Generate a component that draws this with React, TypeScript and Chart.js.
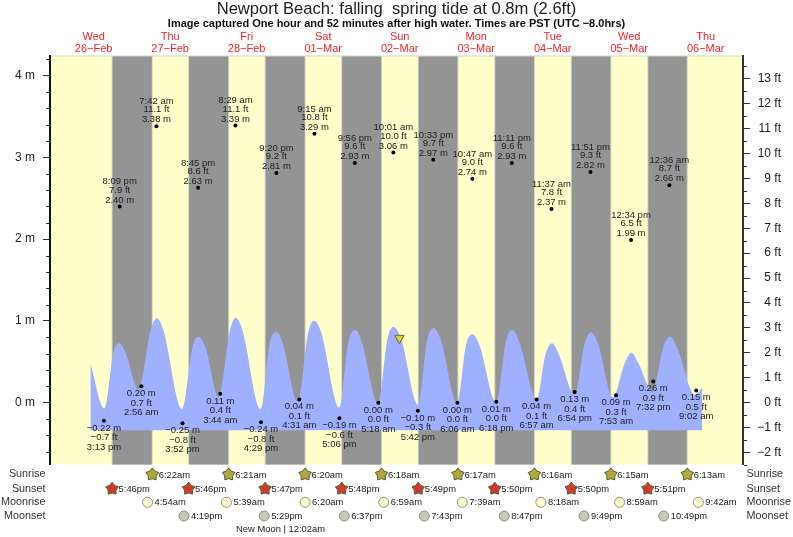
import React, { useEffect, useRef } from "react";
import { Chart, registerables } from "chart.js";

Chart.register(...registerables);

// Hours are counted from 00:00 on Wed 26-Feb.
const dayHours = [12, 36, 60, 84, 108, 132, 156, 180, 204];
const dayLabels = [
  ["Wed", "26\u2212Feb"], ["Thu", "27\u2212Feb"], ["Fri", "28\u2212Feb"], ["Sat", "01\u2212Mar"],
  ["Sun", "02\u2212Mar"], ["Mon", "03\u2212Mar"], ["Tue", "04\u2212Mar"], ["Wed", "05\u2212Mar"], ["Thu", "06\u2212Mar"],
];

const curveHours = [10.96, 15.35, 18.16, 20.05, 22.06, 26.0, 29.9, 31.77, 33.85, 39.72, 42.95, 44.74, 47.15, 51.11, 54.78, 56.56, 58.64, 64.4, 67.2, 69.42, 71.3, 76.0, 79.35, 81.23, 83.3, 89.07, 91.9, 94.2, 96.1, 101.2, 104.2, 106.0, 108.4, 113.76, 116.6, 118.8, 120.9, 126.0, 128.8, 130.8, 133.0, 138.3, 141.3, 143.3, 145.5, 151.0, 153.7, 155.8, 158.0, 162.9, 166.05, 168.1, 170.2, 174.9, 178.6, 180.7, 182.9, 187.3, 190.6, 192.7, 195.1, 200.6, 202.95];
const curveMeters = [0.482, -0.069, 0.604, 0.726, 0.604, 0.164, 0.889, 1.032, 0.889, -0.077, 0.665, 0.808, 0.665, 0.074, 0.889, 1.04, 0.889, -0.077, 0.726, 0.861, 0.726, 0.012, 0.869, 1.003, 0.869, -0.06, 0.746, 0.889, 0.746, -0.008, 0.787, 0.93, 0.787, -0.028, 0.767, 0.91, 0.767, 0, 0.706, 0.836, 0.706, 0, 0.746, 0.889, 0.746, 0.045, 0.583, 0.726, 0.583, 0.094, 0.726, 0.861, 0.726, 0.066, 0.482, 0.612, 0.482, 0.135, 0.665, 0.808, 0.665, 0.094, 0.188];
const curveBase = -0.338;

const tideHours = [15.22, 20.15, 26.93, 31.7, 39.87, 44.75, 51.73, 56.48, 64.48, 69.33, 76.52, 81.25, 89.1, 93.93, 101.3, 106.02, 113.7, 118.55, 126.1, 130.78, 138.3, 143.18, 150.95, 155.62, 162.9, 167.85, 175.88, 180.57, 187.53, 192.6, 201.03];
const tideMeters = [-0.22, 2.4, 0.2, 3.38, -0.25, 2.63, 0.11, 3.39, -0.24, 2.81, 0.04, 3.29, -0.19, 2.93, 0, 3.06, -0.1, 2.97, 0, 2.74, 0.01, 2.93, 0.04, 2.37, 0.13, 2.82, 0.09, 1.99, 0.26, 2.66, 0.15];
const tideMeterText = ["\u22120.22 m", "2.40 m", "0.20 m", "3.38 m", "\u22120.25 m", "2.63 m", "0.11 m", "3.39 m", "\u22120.24 m", "2.81 m", "0.04 m", "3.29 m", "\u22120.19 m", "2.93 m", "0.00 m", "3.06 m", "\u22120.10 m", "2.97 m", "0.00 m", "2.74 m", "0.01 m", "2.93 m", "0.04 m", "2.37 m", "0.13 m", "2.82 m", "0.09 m", "1.99 m", "0.26 m", "2.66 m", "0.15 m"];
const tideFeetText = ["\u22120.7 ft", "7.9 ft", "0.7 ft", "11.1 ft", "\u22120.8 ft", "8.6 ft", "0.4 ft", "11.1 ft", "\u22120.8 ft", "9.2 ft", "0.1 ft", "10.8 ft", "\u22120.6 ft", "9.6 ft", "0.0 ft", "10.0 ft", "\u22120.3 ft", "9.7 ft", "0.0 ft", "9.0 ft", "0.0 ft", "9.6 ft", "0.1 ft", "7.8 ft", "0.4 ft", "9.3 ft", "0.3 ft", "6.5 ft", "0.9 ft", "8.7 ft", "0.5 ft"];
const tideTimeText = ["3:13 pm", "8:09 pm", "2:56 am", "7:42 am", "3:52 pm", "8:45 pm", "3:44 am", "8:29 am", "4:29 pm", "9:20 pm", "4:31 am", "9:15 am", "5:06 pm", "9:56 pm", "5:18 am", "10:01 am", "5:42 pm", "10:33 pm", "6:06 am", "10:47 am", "6:18 pm", "11:11 pm", "6:57 am", "11:37 am", "6:54 pm", "11:51 pm", "7:53 am", "12:34 pm", "7:32 pm", "12:36 am", "9:02 am"];

const nowHour = [107.88];
const nowMeter = [0.79];

const sunriseHours = [30.37, 54.35, 78.33, 102.3, 126.28, 150.27, 174.25, 198.22];
const sunriseText = ["6:22am", "6:21am", "6:20am", "6:18am", "6:17am", "6:16am", "6:15am", "6:13am"];
const sunsetHours = [17.77, 41.77, 65.78, 89.8, 113.82, 137.83, 161.83, 185.85];
const sunsetText = ["5:46pm", "5:46pm", "5:47pm", "5:48pm", "5:49pm", "5:50pm", "5:50pm", "5:51pm"];
const moonriseHours = [28.9, 53.65, 78.33, 102.98, 127.65, 152.3, 176.98, 201.7];
const moonriseText = ["4:54am", "5:39am", "6:20am", "6:59am", "7:39am", "8:18am", "8:59am", "9:42am"];
const moonsetHours = [40.32, 65.48, 90.62, 115.72, 140.78, 165.82, 190.82];
const moonsetText = ["4:19pm", "5:29pm", "6:37pm", "7:43pm", "8:47pm", "9:49pm", "10:49pm"];
const rowNames = ["Sunrise", "Sunset", "Moonrise", "Moonset"];

const meterTicks = [0, 1, 2, 3, 4];
const meterMinor = [-0.6, -0.4, -0.2, 0.2, 0.4, 0.6, 0.8, 1.2, 1.4, 1.6, 1.8, 2.2, 2.4, 2.6, 2.8, 3.2, 3.4, 3.6, 3.8, 4.2];
const feetTicks = [-2, -1, 0, 1, 2, 3, 4, 5, 6, 7, 8, 9, 10, 11, 12, 13];
const feetMinor = [-2.5, -1.5, -0.5, 0.5, 1.5, 2.5, 3.5, 4.5, 5.5, 6.5, 7.5, 8.5, 9.5, 10.5, 11.5, 12.5, 13.5];

const FONT = '"Liberation Sans", Arial, sans-serif';

function star(ctx: CanvasRenderingContext2D, x: number, y: number, fill: string) {
  const outer = 6.6;
  const inner = 4.2;
  ctx.beginPath();
  for (let i = 0; i < 10; i++) {
    const r = i % 2 === 0 ? outer : inner;
    const a = -Math.PI / 2 + (i * Math.PI) / 5;
    const px = x + r * Math.cos(a);
    const py = y + r * Math.sin(a);
    if (i === 0) ctx.moveTo(px, py);
    else ctx.lineTo(px, py);
  }
  ctx.closePath();
  ctx.fillStyle = fill;
  ctx.fill();
  ctx.strokeStyle = "#5a5a3a";
  ctx.lineWidth = 1;
  ctx.stroke();
}

function moon(ctx: CanvasRenderingContext2D, x: number, y: number, fill: string) {
  ctx.beginPath();
  ctx.arc(x, y, 5, 0, Math.PI * 2);
  ctx.fillStyle = fill;
  ctx.fill();
  ctx.strokeStyle = "#8f8f80";
  ctx.lineWidth = 1;
  ctx.stroke();
}

const bandsPlugin = {
  id: "bands",
  beforeDraw(chart: any) {
    const { ctx, chartArea: a, scales } = chart;
    ctx.save();
    ctx.fillStyle = "#ffffcc";
    ctx.fillRect(a.left, a.top, a.right - a.left, a.bottom - a.top);
    sunsetHours.forEach((s, i) => {
      const x0 = scales.x.getPixelForValue(s);
      const x1 = scales.x.getPixelForValue(sunriseHours[i]);
      ctx.fillStyle = "#d4d4c4";
      ctx.fillRect(x0 - 0.5, a.top, x1 - x0 + 1, a.bottom - a.top);
      ctx.fillStyle = "#949494";
      ctx.fillRect(x0 + 0.5, a.top, x1 - x0 - 1, a.bottom - a.top);
    });
    ctx.fillStyle = "#d4d4c4";
    ctx.fillRect(a.left, a.top - 0.5, a.right - a.left, 1);
    ctx.restore();
  },
};

const textPlugin = {
  id: "texts",
  afterDraw(chart: any) {
    const { ctx, scales } = chart;
    const x = scales.x;
    const y = scales.y;
    ctx.save();

    // minor ticks
    ctx.strokeStyle = "#333";
    ctx.lineWidth = 1;
    meterMinor.forEach((v) => {
      const p = Math.round(y.getPixelForValue(v)) + 0.5;
      ctx.beginPath();
      ctx.moveTo(46, p);
      ctx.lineTo(49, p);
      ctx.stroke();
    });
    feetMinor.forEach((v) => {
      const p = Math.round(scales.ft.getPixelForValue(v)) + 0.5;
      ctx.beginPath();
      ctx.moveTo(744, p);
      ctx.lineTo(747, p);
      ctx.stroke();
    });

    // tide labels
    ctx.fillStyle = "#222";
    ctx.font = `9.5px ${FONT}`;
    ctx.textAlign = "center";
    ctx.textBaseline = "middle";
    tideHours.forEach((h, i) => {
      const px = x.getPixelForValue(h);
      const py = y.getPixelForValue(tideMeters[i]);
      if (tideMeters[i] > 1) {
        ctx.fillText(tideTimeText[i], px, py - 24.7);
        ctx.fillText(tideFeetText[i], px, py - 16.5);
        ctx.fillText(tideMeterText[i], px, py - 6.5);
      } else {
        ctx.fillText(tideMeterText[i], px, py + 7.3);
        ctx.fillText(tideFeetText[i], px, py + 17);
        ctx.fillText(tideTimeText[i], px, py + 26.3);
      }
    });

    // rows under the plot
    const rowY = [474.5, 488.8, 502.3, 516];
    ctx.font = `10.8px ${FONT}`;
    ctx.fillStyle = "#333";
    rowNames.forEach((n, i) => {
      ctx.textAlign = "right";
      ctx.fillText(n, 45.5, rowY[i]);
      ctx.textAlign = "left";
      ctx.fillText(n, 746.5, rowY[i]);
    });

    ctx.font = `9.4px ${FONT}`;
    ctx.textAlign = "left";
    const row = (hours: number[], text: string[], yy: number, draw: (px: number) => void, off: number) => {
      hours.forEach((h, i) => {
        const px = x.getPixelForValue(h);
        draw(px);
        ctx.fillStyle = "#222";
        ctx.fillText(text[i], px + off, yy + 0.5);
      });
    };
    row(sunriseHours, sunriseText, rowY[0], (px) => star(ctx, px, rowY[0], "#b0a83a"), 6.5);
    row(sunsetHours, sunsetText, rowY[1], (px) => star(ctx, px, rowY[1], "#d03a2a"), 6.5);
    row(moonriseHours, moonriseText, rowY[2], (px) => moon(ctx, px, rowY[2], "#ffffcc"), 7);
    row(moonsetHours, moonsetText, rowY[3], (px) => moon(ctx, px, rowY[3], "#c8c8b4"), 7);

    ctx.textAlign = "center";
    ctx.fillStyle = "#222";
    ctx.fillText("New Moon | 12:02am", 280.5, 529.5);
    ctx.restore();
  },
};

export default function App() {
  const ref = useRef<HTMLCanvasElement | null>(null);
  useEffect(() => {
    if (!ref.current) return;
    const chart = new Chart(ref.current, {
      type: "line",
      data: {
        datasets: [
          {
            label: "Now",
            data: nowHour.map((h, i) => ({ x: h, y: nowMeter[i] })),
            showLine: false,
            pointStyle: "triangle",
            rotation: 180,
            radius: 5.5,
            backgroundColor: "#d8d030",
            borderColor: "#6b6b30",
            borderWidth: 1,
            order: 0,
          },
          {
            label: "Extremes",
            data: tideHours.map((h, i) => ({ x: h, y: tideMeters[i] })),
            showLine: false,
            pointStyle: "circle",
            radius: 2,
            backgroundColor: "#000",
            borderWidth: 0,
            order: 1,
          },
          {
            label: "Tide",
            data: curveHours.map((h, i) => ({ x: h, y: curveMeters[i] })),
            borderWidth: 0,
            borderColor: "rgba(0,0,0,0)",
            backgroundColor: "#9fb1fe",
            pointRadius: 0,
            cubicInterpolationMode: "monotone",
            fill: { value: curveBase },
            order: 2,
          },
        ],
      } as any,
      options: {
        responsive: false,
        animation: false,
        devicePixelRatio: 1,
        layout: { padding: { top: 1, left: 12, right: 12, bottom: 72.5 } },
        plugins: {
          legend: { display: false },
          tooltip: { enabled: false },
          title: {
            display: true,
            text: "Newport Beach: falling  spring tide at 0.8m (2.6ft)",
            color: "#222",
            font: { family: FONT, size: 16.6, weight: "normal", lineHeight: 1 },
            padding: { top: 0, bottom: 0 },
          },
          subtitle: {
            display: true,
            text: "Image captured One hour and 52 minutes after high water. Times are PST (UTC \u22128.0hrs)",
            color: "#111",
            font: { family: FONT, size: 11, weight: "bold", lineHeight: 1 },
            padding: { top: 1, bottom: 0 },
          },
        },
        scales: {
          x: {
            type: "linear",
            position: "top",
            min: -1.7,
            max: 215.7,
            afterBuildTicks: (s: any) => {
              s.ticks = dayHours.map((v) => ({ value: v }));
            },
            afterFit: (s: any) => {
              s.height = 26.4;
            },
            ticks: {
              autoSkip: false,
              maxRotation: 0,
              color: "#f0242c",
              padding: 1,
              font: { family: FONT, size: 11, lineHeight: 1.09 },
              callback: (v: any) => dayLabels[dayHours.indexOf(Number(v))],
            },
            border: { display: false },
            grid: { display: false, drawTicks: false },
          },
          y: {
            type: "linear",
            position: "left",
            min: -0.756,
            max: 4.24,
            afterBuildTicks: (s: any) => {
              s.ticks = meterTicks.map((v) => ({ value: v }));
            },
            afterFit: (s: any) => {
              s.width = 38;
            },
            ticks: {
              autoSkip: false,
              color: "#222",
              padding: 8,
              font: { family: FONT, size: 12 },
              callback: (v: any) => `${v} m`,
            },
            border: { display: true, color: "#111", width: 2 },
            grid: { drawOnChartArea: false, tickLength: 7, tickColor: "#333", tickWidth: 1 },
          },
          ft: {
            type: "linear",
            position: "right",
            min: -0.756 * 3.28084,
            max: 4.24 * 3.28084,
            afterBuildTicks: (s: any) => {
              s.ticks = feetTicks.map((v) => ({ value: v }));
            },
            afterFit: (s: any) => {
              s.width = 38;
            },
            ticks: {
              autoSkip: false,
              color: "#222",
              padding: 8,
              crossAlign: "far",
              font: { family: FONT, size: 12 },
              callback: (v: any) => `${v < 0 ? "\u2212" : ""}${Math.abs(v)} ft`,
            },
            border: { display: true, color: "#333", width: 2 },
            grid: { drawOnChartArea: false, tickLength: 7, tickColor: "#333", tickWidth: 1 },
          },
        },
      } as any,
      plugins: [bandsPlugin, textPlugin],
    });
    return () => chart.destroy();
  }, []);
  return (
    <canvas
      ref={ref}
      width={793}
      height={537}
      style={{ position: "fixed", left: 0, top: 0, width: 793, height: 537 }}
    />
  );
}
